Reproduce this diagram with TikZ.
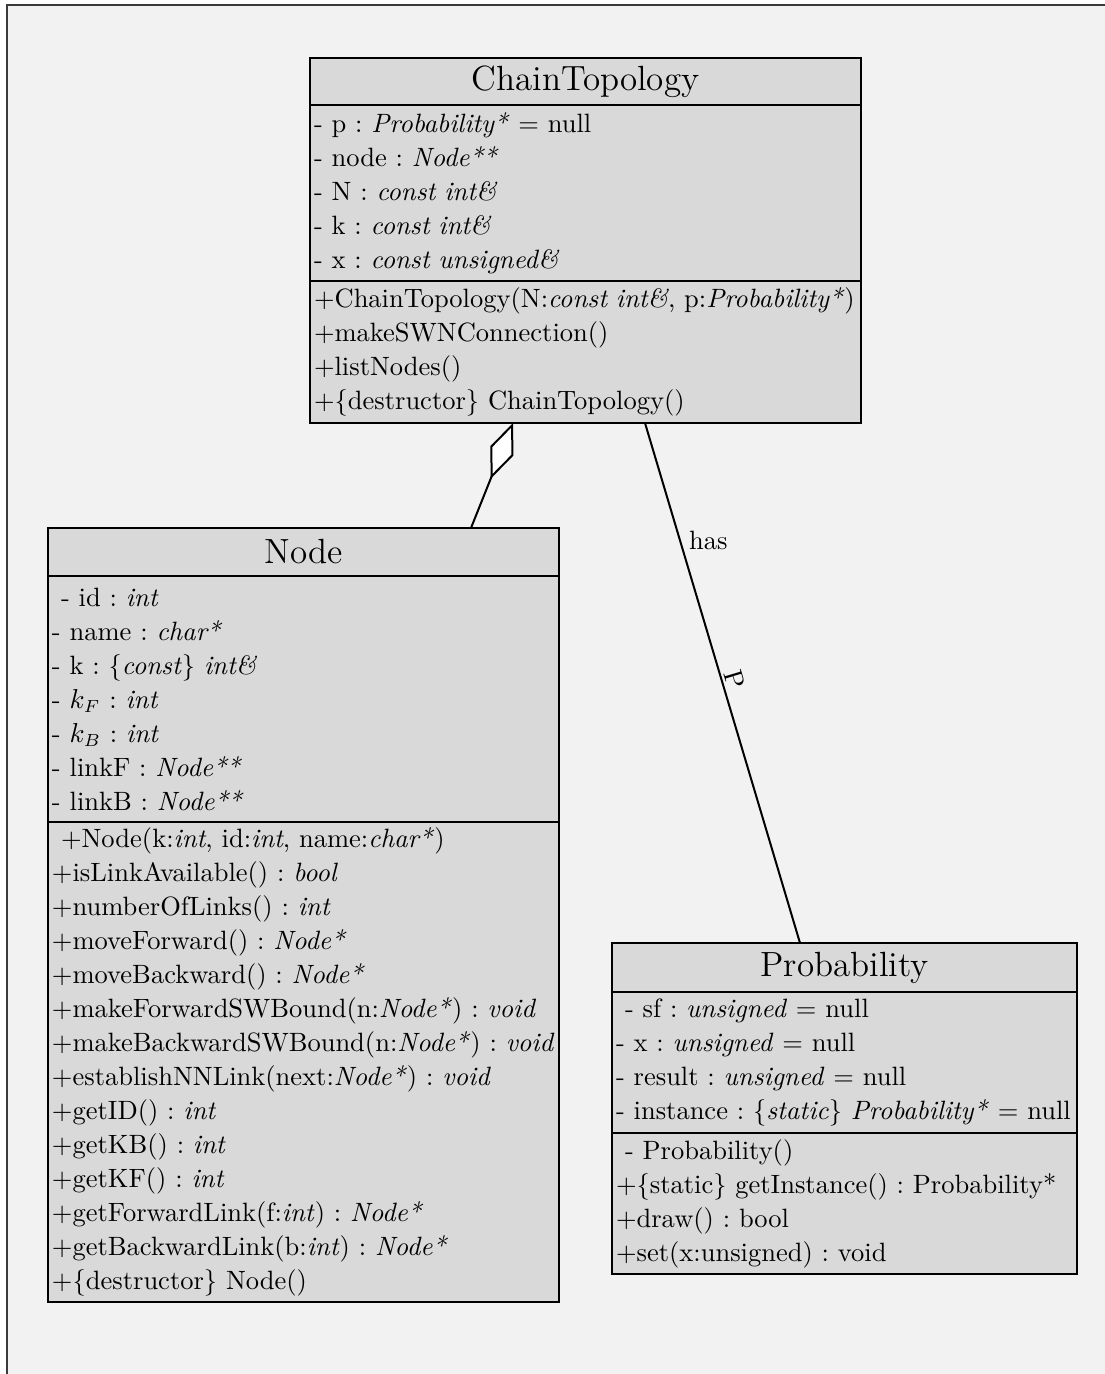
\documentclass[tikz,border=0pt]{standalone}
\usepackage{xcolor}
\definecolor{boxgray}{HTML}{D9D9D9}
\definecolor{paper}{HTML}{F2F2F2}
\definecolor{rule}{HTML}{3A3A3A}
\usetikzlibrary{positioning, arrows.meta}
\newcommand{\ind}{\hspace*{3.6pt}}
\frenchspacing
\tikzset{
    classname/.style = {
      draw, fill = boxgray,
      line width = 0.8pt,
      outer sep = 0pt,
      inner sep = 0pt,
      font = \fontsize{14}{16}\selectfont,
      align = center
    },
    members/.style = {
      draw, fill = boxgray,
      line width = 0.8pt,
      outer sep = 0pt,
      inner xsep = 1.6pt, inner ysep = 0pt,
      font = \fontsize{10.6}{13.6}\selectfont,
      align = left
    },
    aggreg/.style = {
      -{Diamond[fill=white, length=24pt, width=10pt]},
      line width = 0.8pt
    },
    assoc/.style = {
      line width = 0.8pt,
      font = \fontsize{10.6}{13.6}\selectfont
    },
}
\begin{document}
\begin{tikzpicture}[x=0.4pt, y=-0.4pt]
    \useasboundingbox (0,0) rectangle (1105,1374);
    \fill[paper] (7,5) rectangle (1105,1374);
    \draw[rule, line width=0.8pt] (7,1374) -- (7,5) -- (1105,5);

    \node[classname, minimum width=220.4pt, minimum height=18.8pt, anchor=north west] (CTname) at (310,58) {ChainTopology};
    \node[members, text width=217.2pt, minimum height=70.4pt, below=0pt of CTname] (CTattrs) {%
      - p : \textit{Probability*} = null\\
      - node : \textit{Node**}\\
      - N : \textit{const int\&}\\
      - k : \textit{const int\&}\\
      - x : \textit{const unsigned\&}};
    \node[members, text width=217.2pt, minimum height=56.8pt, below=0pt of CTattrs] (CTops) {%
      +ChainTopology(N:\textit{const int\&}, p:\textit{Probability*})\\
      +makeSWNConnection()\\
      +listNodes()\\
      +\{destructor\} ChainTopology()};

    \node[classname, minimum width=204.4pt, minimum height=19.2pt, anchor=north west] (NDname) at (48,528) {Node};
    \node[members, text width=201.2pt, minimum height=98.4pt, below=0pt of NDname] (NDattrs) {%
      \ind- id : \textit{int}\\
      - name : \textit{char*}\\
      - k : \{\textit{const}\} \textit{int\&}\\
      - $k_F$ : \textit{int}\\
      - $k_B$ : \textit{int}\\
      - linkF : \textit{Node**}\\
      - linkB : \textit{Node**}};
    \node[members, text width=201.2pt, minimum height=192pt, below=0pt of NDattrs] (NDops) {%
      \ind+Node(k:\textit{int}, id:\textit{int}, name:\textit{char*})\\
      +isLinkAvailable() : \textit{bool}\\
      +numberOfLinks() : \textit{int}\\
      +moveForward() : \textit{Node*}\\
      +moveBackward() : \textit{Node*}\\
      +makeForwardSWBound(n:\textit{Node*}) : \textit{void}\\
      +makeBackwardSWBound(n:\textit{Node*}) : \textit{void}\\
      +establishNNLink(next:\textit{Node*}) : \textit{void}\\
      +getID() : \textit{int}\\
      +getKB() : \textit{int}\\
      +getKF() : \textit{int}\\
      +getForwardLink(f:\textit{int}) : \textit{Node*}\\
      +getBackwardLink(b:\textit{int}) : \textit{Node*}\\
      +\{destructor\} Node()};

    \node[classname, minimum width=186pt, minimum height=19.6pt, anchor=north west] (PRname) at (612,943) {Probability};
    \node[members, text width=182.8pt, minimum height=56.4pt, below=0pt of PRname] (PRattrs) {%
      \ind- sf : \textit{unsigned} = null\\
      - x : \textit{unsigned} = null\\
      - result : \textit{unsigned} = null\\
      - instance : \{\textit{static}\} \textit{Probability*} = null};
    \node[members, text width=182.8pt, minimum height=56.4pt, below=0pt of PRattrs] (PRops) {%
      \ind- Probability()\\
      +\{static\} getInstance() : Probability*\\
      +draw() : bool\\
      +set(x:unsigned) : void};

    \draw[aggreg] ([xshift=169.2pt]NDname.north west) -- ([xshift=81.2pt]CTops.south west);
    \draw[assoc] ([xshift=134pt]CTops.south west) -- ([xshift=75.2pt]PRname.north west)
      node[pos=0.225, right] {has}
      node[pos=0.5, sloped, above, inner sep=1pt] {P};
\end{tikzpicture}
\end{document}
